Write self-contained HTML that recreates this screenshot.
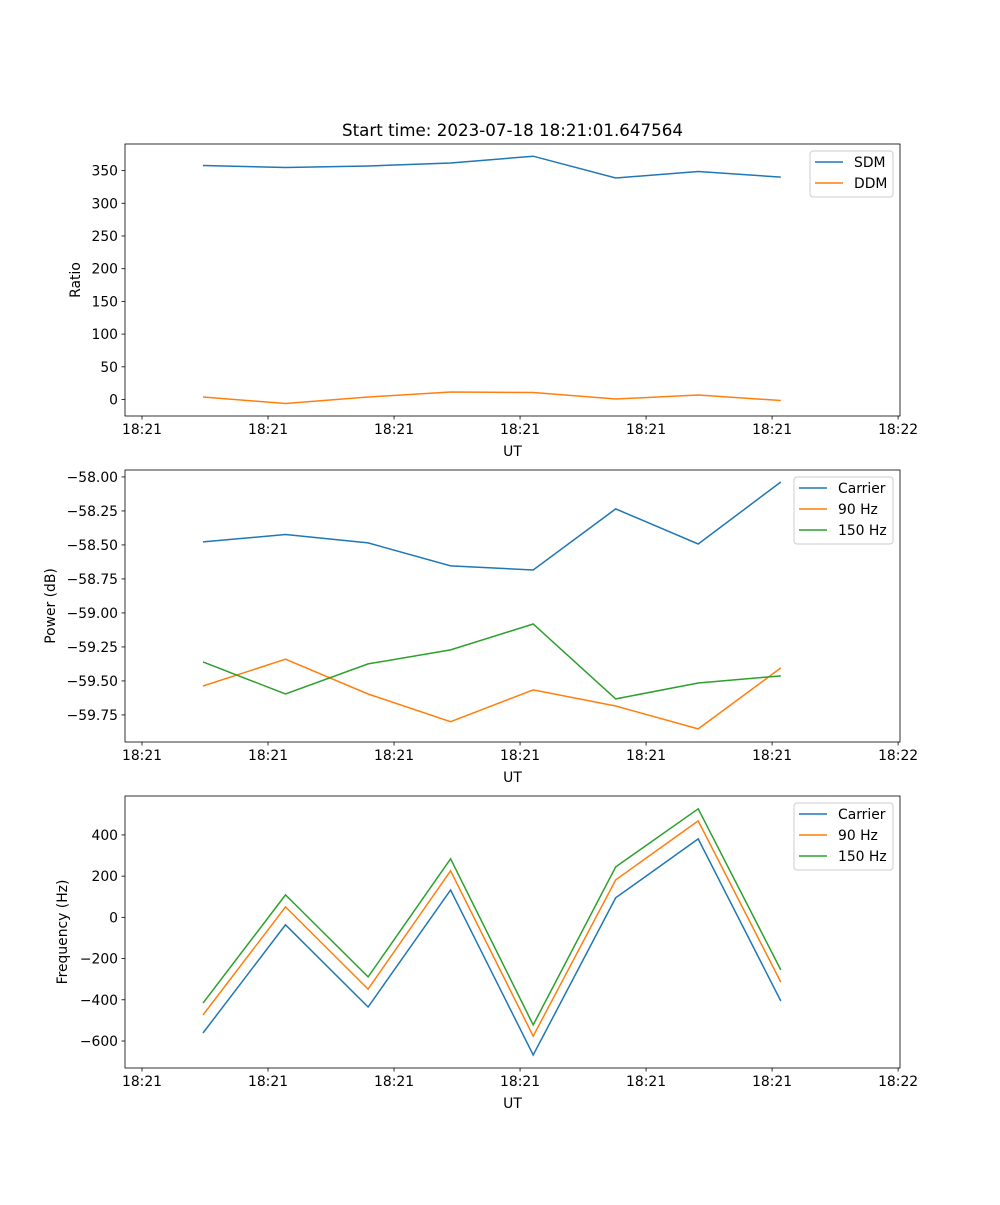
<!DOCTYPE html>
<html><head><meta charset="utf-8"><style>
body{margin:0;background:#fff;}
svg text{font-family:"DejaVu Sans","Liberation Sans",sans-serif;fill:#000;}
</style></head><body>
<svg id="fig" width="1000" height="1200" viewBox="0 0 1000 1200" xmlns="http://www.w3.org/2000/svg"></svg>
<script>
const times = [4.84, 11.39, 17.94, 24.49, 31.04, 37.59, 44.14, 50.69];
const xTicks = [0, 10, 20, 30, 40, 50, 60];
const xTickLabels = ["18:21","18:21","18:21","18:21","18:21","18:21","18:22"];
const sdm = [357.8, 354.7, 357, 361.6, 372, 338.6, 348.6, 340];
const ddm = [3.8, -6.1, 3.8, 11.5, 10.7, 0.8, 6.9, -1.5];
const powCarrier = [-58.478, -58.423, -58.485, -58.654, -58.684, -58.235, -58.493, -58.037];
const pow90 = [-59.537, -59.34, -59.596, -59.80, -59.566, -59.684, -59.853, -59.404];
const pow150 = [-59.36, -59.596, -59.375, -59.272, -59.081, -59.632, -59.515, -59.463];
const freqCarrier = [-561, -36, -435, 133, -668, 95, 381, -406];
const freq90 = [-474, 51, -348, 226, -576, 182, 468, -314];
const freq150 = [-416, 109, -289, 284, -522, 245, 527, -255];
const ratioTicks = [0, 50, 100, 150, 200, 250, 300, 350];
const powTicks = [-58.0, -58.25, -58.5, -58.75, -59.0, -59.25, -59.5, -59.75];
const freqTicks = [400, 200, 0, -200, -400, -600];

const NS = "http://www.w3.org/2000/svg";
const svg = document.getElementById('fig');
function el(tag, attrs, parent){const e=document.createElementNS(NS,tag);for(const k in attrs)e.setAttribute(k,attrs[k]);(parent||svg).appendChild(e);return e;}
const X0=125,X1=900,XMIN=-1.35,XMAX=60.15;
function xs(t){return X0+(t-XMIN)/(XMAX-XMIN)*(X1-X0);}
const C=['#1f77b4','#ff7f0e','#2ca02c'];

function panel(name, top, bot, ymin, ymax, ticks, fmt, ylabel, series, labels, legendBox){
  const g=el('g',{});
  
  
  const ys=v=>bot-(v-ymin)/(ymax-ymin)*(bot-top);
  series.forEach((s,i)=>{
    const p=el('polyline',{points:s.map((v,j)=>xs(times[j]).toFixed(1)+','+ys(v).toFixed(1)).join(' '),fill:'none',stroke:C[i],'stroke-width':1.5},g);
    
    
  });
  el('rect',{x:X0,y:top,width:X1-X0,height:bot-top,fill:'none',stroke:'#000','stroke-width':0.8},g);
  xTicks.forEach((t,i)=>{
    const x=xs(t);
    el('line',{x1:x,y1:bot,x2:x,y2:bot+3.5,stroke:'#000','stroke-width':0.8},g);
    const tx=el('text',{x:x,y:bot+18,'font-size':13.9,'text-anchor':'middle'},g);tx.textContent=xTickLabels[i];
    
    
  });
  ticks.forEach(v=>{
    const y=ys(v);
    el('line',{x1:X0-3.5,y1:y,x2:X0,y2:y,stroke:'#000','stroke-width':0.8},g);
    const tx=el('text',{x:X0-7,y:y+5,'font-size':13.9,'text-anchor':'end'},g);tx.textContent=fmt(v);
    
    
  });
  const xl=el('text',{x:(X0+X1)/2,y:bot+40,'font-size':13.9,'text-anchor':'middle'},g);xl.textContent='UT';
  
  
  const lx=legendBox[0]-(legendBox[0]>=800?0:0);
  const yl=el('text',{x:0,y:0,'font-size':13.9,'text-anchor':'middle',transform:`translate(${ylabel[1]},${(top+bot)/2}) rotate(-90)`},g);yl.textContent=ylabel[0];
  
  
  const [bx,by,bw,bh]=legendBox;
  const lg=el('g',{},g);
  
  
  el('rect',{x:bx,y:by,width:bw,height:bh,rx:3,fill:'#fff','fill-opacity':0.8,stroke:'#ccc','stroke-width':1},lg);
  labels.forEach((l,i)=>{
    const y=by+11+i*21;
    el('line',{x1:bx+5,y1:y,x2:bx+33,y2:y,stroke:C[i],'stroke-width':1.5},lg);
    const t=el('text',{x:bx+44,y:y+5,'font-size':13.9},lg);t.textContent=l;
    
    
  });
}
const title=el('text',{x:512.5,y:136,'font-size':16.7,'text-anchor':'middle'});title.textContent='Start time: 2023-07-18 18:21:01.647564';


panel('ratio-panel',144,416,-25.2,390.6,ratioTicks,v=>String(v),['Ratio',80],[sdm,ddm],['SDM','DDM'],[810,151,83,46]);
panel('power-panel',470,742,-59.949,-57.949,powTicks,v=>'\u2212'+Math.abs(v).toFixed(2),['Power (dB)',55],[powCarrier,pow90,pow150],['Carrier','90 Hz','150 Hz'],[794,477,99,67]);
panel('frequency-panel',796,1068,-731,589,freqTicks,v=>v<0?'\u2212'+Math.abs(v):String(v),['Frequency (Hz)',67],[freqCarrier,freq90,freq150],['Carrier','90 Hz','150 Hz'],[794,803,99,67]);
</script>
</body></html>
